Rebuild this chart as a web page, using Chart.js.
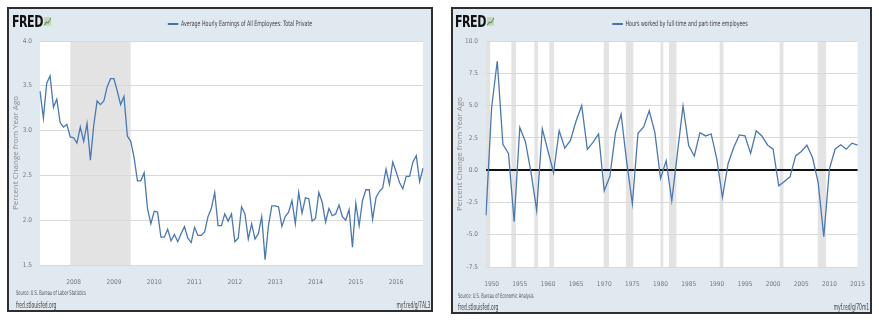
<!DOCTYPE html>
<html>
<head>
<meta charset="utf-8">
<script src="https://cdn.jsdelivr.net/npm/chart.js@4.4.1/dist/chart.umd.min.js"></script>
<style>
  body { margin: 0; width: 879px; height: 322px; background: #fff; position: relative; overflow: hidden;
         font-family: "Liberation Sans Narrow", "DejaVu Sans Condensed", sans-serif; }
  .panel { position: absolute; background: #e1e9f0; border: 2px solid #2e2e2e; box-sizing: border-box; }
  .panel canvas { position: absolute; left: 0; top: 0; }
  .logo { position: absolute; top: 6px; font-weight: bold; font-size: 15px; line-height: 15px; color: #111;
          letter-spacing: -0.6px; transform: scaleX(0.82); transform-origin: left top; white-space: nowrap; }
  .logo svg { vertical-align: top; margin-left: 1px; }
  .legend { position: absolute; top: 10px; font-size: 7.5px; line-height: 10px; color: #444;
            transform: translateX(-50%) scaleX(0.7); white-space: nowrap; }
  .legend i { display: inline-block; width: 15px; height: 2px; background: #4572a7; vertical-align: middle; margin-right: 4px; }
  .src { position: absolute; font-size: 6.5px; line-height: 8px; color: #555; transform: scaleX(0.62);
         transform-origin: left top; white-space: nowrap; }
  .site { position: absolute; font-size: 8.5px; line-height: 10px; color: #444; transform: scaleX(0.58);
          white-space: nowrap; }
  .site.l { transform-origin: left top; }
  .site.r { transform-origin: right top; }
</style>
</head>
<body>

<div class="panel" id="p1" style="left:7px; top:7px; width:426px; height:305px;">
  <canvas id="c1" width="422" height="301"></canvas>
  <div class="logo" style="left:3px;">FRED<svg width="9" height="11" viewBox="0 0 9 11"><rect x="0" y="2" width="9" height="9" fill="#c9d6c3"/><polyline points="0.5,10 3,7 5,8 8.5,3" fill="none" stroke="#5a9a4a" stroke-width="1.2"/></svg></div>
  <div class="legend" style="left:231px;"><i></i>Average Hourly Earnings of All Employees: Total Private</div>
  <div class="src" style="left:7px; top:280px;">Source: U.S. Bureau of Labor Statistics</div>
  <div class="site l" style="left:7px; top:291px;">fred.stlouisfed.org</div>
  <div class="site r" style="right:1px; top:291px;">myf.red/g/7AL3</div>
</div>

<div class="panel" id="p2" style="left:451px; top:7px; width:421px; height:307px;">
  <canvas id="c2" width="417" height="303"></canvas>
  <div class="logo" style="left:2px;">FRED<svg width="9" height="11" viewBox="0 0 9 11"><rect x="0" y="2" width="9" height="9" fill="#c9d6c3"/><polyline points="0.5,10 3,7 5,8 8.5,3" fill="none" stroke="#5a9a4a" stroke-width="1.2"/></svg></div>
  <div class="legend" style="left:227px;"><i></i>Hours worked by full-time and part-time employees</div>
  <div class="src" style="left:5px; top:283px;">Source: U.S. Bureau of Economic Analysis</div>
  <div class="site l" style="left:5px; top:293px;">fred.stlouisfed.org</div>
  <div class="site r" style="right:1px; top:293px;">myf.red/g/70m1</div>
</div>

<script>
// Average hourly earnings, % change from year ago, monthly Mar 2007 - Sep 2016
const earningsStart = [2007, 3];
const earningsValues = [
  3.44, 3.14, 3.53, 3.61, 3.26, 3.35, 3.09, 3.04, 3.07, 2.93,
  2.92, 2.86, 3.04, 2.88, 3.08, 2.67, 3.06, 3.33, 3.29, 3.33,
  3.49, 3.58, 3.58, 3.44, 3.29, 3.38, 2.94, 2.88, 2.70, 2.44,
  2.44, 2.53, 2.13, 1.96, 2.10, 2.09, 1.81, 1.81, 1.90, 1.77,
  1.84, 1.76, 1.85, 1.93, 1.80, 1.75, 1.92, 1.83, 1.83, 1.87,
  2.04, 2.13, 2.31, 1.94, 1.94, 2.07, 1.99, 2.07, 1.76, 1.80,
  2.15, 2.07, 1.79, 1.96, 1.79, 1.85, 2.04, 1.56, 1.94, 2.16,
  2.16, 2.15, 1.93, 2.04, 2.09, 2.22, 1.96, 2.31, 2.08, 2.25,
  2.24, 1.99, 2.02, 2.31, 2.20, 1.98, 2.13, 2.05, 2.07, 2.17,
  2.04, 2.00, 2.12, 1.70, 2.19, 1.94, 2.22, 2.34, 2.34, 2.01,
  2.25, 2.32, 2.36, 2.57, 2.40, 2.65, 2.54, 2.42, 2.35, 2.49,
  2.49, 2.65, 2.72, 2.43, 2.58
];
const earningsRecessions = [['2007-12', '2009-06']];

// Hours worked by full-time and part-time employees, % change from year ago, annual
const hoursYears = [];
for (let y = 1949; y <= 2015; y++) hoursYears.push(String(y));
const hoursValues = [
  -3.5, 4.85, 8.45, 2.0, 1.3, -4.0, 3.3, 2.2, -0.2, -3.1,
  3.2, 1.5, -0.2, 3.05, 1.7, 2.3, 3.8, 5.0, 1.6, 2.15,
  2.8, -1.6, -0.5, 2.9, 4.33, 0.6, -2.6, 2.86, 3.35, 4.6,
  2.9, -0.64, 0.72, -2.37, 1.3, 4.97, 1.9, 1.1, 2.9, 2.65,
  2.8, 0.85, -2.1, 0.5, 1.75, 2.73, 2.65, 1.3, 3.05, 2.65,
  1.95, 1.62, -1.21, -0.88, -0.52, 1.1, 1.44, 1.93, 0.98, -0.95,
  -5.15, 0.08, 1.62, 1.96, 1.62, 2.09, 1.93
];
const hoursRecessions = [
  ['1948-11', '1949-10'], ['1953-07', '1954-05'], ['1957-08', '1958-04'], ['1960-04', '1961-02'],
  ['1969-12', '1970-11'], ['1973-11', '1975-03'], ['1980-01', '1980-07'], ['1981-07', '1982-11'],
  ['1990-07', '1991-03'], ['2001-03', '2001-11'], ['2007-12', '2009-06']
];

const earningsTicks = [1.5, 2.0, 2.5, 3.0, 3.5, 4.0];
const hoursTicks = [-7.5, -5.0, -2.5, 0.0, 2.5, 5.0, 7.5, 10.0];

const earningsMonths = earningsValues.map((v, i) => {
  const t = earningsStart[0] * 12 + earningsStart[1] - 1 + i;
  return Math.floor(t / 12) + '-' + String(t % 12 + 1).padStart(2, '0');
});

const FONT = "'Liberation Sans Narrow', 'DejaVu Sans Condensed', sans-serif";
const BLUE = '#4a78b3';

// white plot area + grey recession bars
function backdrop(bands, toIndex) {
  return {
    id: 'backdrop',
    beforeDraw(chart) {
      const { ctx, chartArea: a, scales } = chart;
      ctx.save();
      ctx.fillStyle = '#fff';
      ctx.fillRect(a.left, a.top, a.width, a.height);
      ctx.fillStyle = '#e3e3e3';
      bands.forEach(([s, e]) => {
        let x0 = scales.x.getPixelForValue(toIndex(s));
        let x1 = scales.x.getPixelForValue(toIndex(e));
        x0 = Math.max(x0, a.left);
        x1 = Math.min(x1, a.right);
        if (x1 > x0) ctx.fillRect(x0, a.top, x1 - x0, a.height);
      });
      ctx.restore();
    }
  };
}

function makeChart(id, labels, values, ticks, tickCb, plugin, pad, yWidth, zeroLine) {
  return new Chart(document.getElementById(id), {
    type: 'line',
    data: {
      labels: labels,
      datasets: [{
        data: values,
        borderColor: BLUE,
        borderWidth: 1.3,
        pointRadius: 0,
        tension: 0,
        fill: false
      }]
    },
    options: {
      responsive: false,
      animation: false,
      layout: { padding: pad },
      plugins: { legend: { display: false }, tooltip: { enabled: false } },
      scales: {
        x: {
          type: 'category',
          offset: false,
          grid: { display: false },
          border: { display: false },
          ticks: {
            autoSkip: false,
            maxRotation: 0,
            padding: 5,
            color: '#777',
            font: { family: FONT, size: 6.5 },
            callback: tickCb
          },
          afterFit: s => { s.height = 20; }
        },
        y: {
          min: ticks[0],
          max: ticks[ticks.length - 1],
          border: { display: false },
          grid: {
            drawTicks: false,
            color: c => (zeroLine && c.tick.value === 0) ? '#111' : '#d9d9d9',
            lineWidth: c => (zeroLine && c.tick.value === 0) ? 2 : 1
          },
          ticks: {
            stepSize: ticks[1] - ticks[0],
            padding: 8,
            color: '#777',
            font: { family: FONT, size: 6.5 },
            callback: v => Number(v).toFixed(1)
          },
          title: {
            display: true,
            text: 'Percent Change from Year Ago',
            color: '#8a8a8a',
            font: { family: "'Open Sans', sans-serif", size: 8 },
            padding: { top: 2, bottom: 0 }
          },
          afterFit: s => { s.width = yWidth; }
        }
      }
    },
    plugins: [plugin]
  });
}

makeChart('c1', earningsMonths, earningsValues, earningsTicks,
  function (v) {
    const l = this.getLabelForValue(v);
    return l.endsWith('-01') ? l.slice(0, 4) : null;
  },
  backdrop(earningsRecessions, d => {
    const [y, m] = d.split('-').map(Number);
    return (y - earningsStart[0]) * 12 + (m - earningsStart[1]);
  }),
  { left: 0, top: 32, right: 8, bottom: 25 }, 31, false);

makeChart('c2', hoursYears, hoursValues, hoursTicks,
  function (v) {
    const l = this.getLabelForValue(v);
    return Number(l) % 5 === 0 ? l : null;
  },
  backdrop(hoursRecessions, d => {
    const [y, m] = d.split('-').map(Number);
    return y - 1949 + (m - 1) / 12;
  }),
  { left: 0, top: 32, right: 9, bottom: 25 }, 33, true);
</script>
</body>
</html>
